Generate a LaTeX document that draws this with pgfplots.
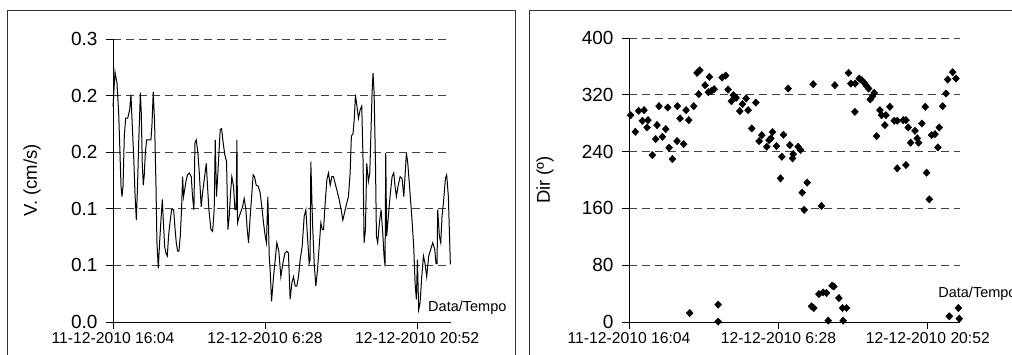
\documentclass[border=0pt]{standalone}
\usepackage{pgfplots}
\pgfplotsset{compat=1.18}
\usepackage{fontspec}
\setmainfont{Liberation Sans}

\pgfplotsset{
  myaxis/.style={
    scale only axis, anchor=south west,
    axis x line=bottom, axis y line=left,
    axis line style={-, black, line width=0.8pt},
    tick align=outside,
    major tick length=7pt,
    tick style={black, line width=0.8pt},
    ymajorgrids,
    major grid style={black!75, line width=0.8pt, dash pattern=on 8pt off 5pt},
    xtick={0,14.4,28.8},
    xticklabels={11-12-2010 16:04,12-12-2010 6:28,12-12-2010 20:52},
    xticklabel style={font=\fontsize{15.7}{16}\selectfont},
    yticklabel style={font=\fontsize{19}{19}\selectfont, xshift=-5pt},
    ylabel style={font=\fontsize{18.5}{19}\selectfont, anchor=center},
    xlabel style={font=\fontsize{14.5}{15}\selectfont, anchor=west, inner sep=0pt},
    /pgf/number format/assume math mode=true,
    xmin=0,
    clip=false,
  }
}

\begin{document}
\begin{tikzpicture}[x=1pt,y=1pt]
\useasboundingbox (0,0) rectangle (1012,355);
\clip (0,0) rectangle (1012,355);
\draw[black!80, line width=0.8pt] (7,-20) rectangle (515,345);
\draw[black!80, line width=0.8pt] (529,-20) rectangle (1040,345);

\begin{axis}[myaxis, at={(113pt,33pt)}, width=338pt, height=283pt,
  xmax=32, ymin=0, ymax=0.3,
  ytick={0,0.06,0.12,0.18,0.24,0.3},
  yticklabel style={/pgf/number format/fixed, /pgf/number format/fixed zerofill, /pgf/number format/precision=1},
  ylabel={V. (cm/s)},
  ylabel style={at={(axis description cs:-0.2396,0.5)}},
  xlabel={Data/Tempo},
  xlabel style={at={(axis description cs:0.932,0.049)}},
]
\addplot[black, line width=1pt, mark=none] coordinates {
(0,0.228)(0.19,0.265)(0.38,0.253)(0.54,0.221)(0.76,0.144)(0.85,0.133)(0.95,0.144)(1.07,0.197)(1.20,0.216)(1.39,0.216)(1.58,0.225)(1.70,0.241)(1.83,0.207)(1.96,0.175)(2.08,0.137)(2.21,0.108)(2.33,0.147)(2.43,0.190)(2.52,0.218)(2.59,0.243)(2.68,0.221)(2.77,0.168)(2.87,0.145)(2.96,0.156)(3.06,0.179)(3.18,0.193)(3.40,0.193)(3.59,0.193)(3.69,0.209)(3.81,0.244)(3.94,0.211)(4.07,0.144)(4.16,0.084)(4.29,0.057)(4.41,0.084)(4.54,0.108)(4.67,0.130)(4.76,0.108)(4.89,0.080)(5.01,0.073)(5.14,0.070)(5.26,0.091)(5.39,0.105)(5.55,0.119)(5.74,0.119)(5.86,0.101)(5.99,0.084)(6.12,0.075)(6.24,0.075)(6.37,0.091)(6.49,0.119)(6.59,0.154)(6.68,0.133)(6.81,0.142)(6.94,0.151)(7.06,0.156)(7.22,0.158)(7.41,0.154)(7.53,0.133)(7.66,0.119)(7.76,0.190)(7.88,0.193)(8.04,0.179)(8.17,0.158)(8.26,0.140)(8.35,0.122)(8.48,0.137)(8.64,0.151)(8.83,0.168)(8.95,0.144)(9.08,0.119)(9.27,0.098)(9.43,0.096)(9.58,0.119)(9.68,0.193)(9.80,0.133)(9.93,0.158)(10.15,0.204)(10.28,0.205)(10.43,0.190)(10.59,0.177)(10.75,0.170)(10.88,0.098)(11.00,0.112)(11.13,0.137)(11.25,0.154)(11.41,0.144)(11.54,0.119)(11.66,0.119)(11.73,0.193)(11.79,0.105)(11.95,0.112)(12.11,0.117)(12.26,0.122)(12.42,0.131)(12.58,0.119)(12.71,0.098)(12.83,0.084)(12.99,0.112)(13.15,0.137)(13.27,0.156)(13.40,0.154)(13.56,0.145)(13.75,0.144)(13.93,0.137)(14.09,0.122)(14.25,0.105)(14.41,0.091)(14.53,0.084)(14.66,0.133)(14.79,0.070)(14.88,0.055)(15.01,0.022)(15.20,0.048)(15.51,0.084)(15.70,0.075)(15.89,0.048)(16.08,0.062)(16.27,0.073)(16.46,0.075)(16.61,0.073)(16.77,0.024)(16.93,0.041)(17.09,0.048)(17.25,0.038)(17.40,0.038)(17.56,0.048)(17.72,0.066)(17.91,0.080)(18.10,0.112)(18.26,0.119)(18.41,0.091)(18.57,0.062)(18.66,0.066)(18.73,0.170)(18.89,0.105)(19.05,0.062)(19.20,0.038)(19.36,0.055)(19.52,0.080)(19.68,0.105)(19.81,0.098)(19.93,0.098)(20.09,0.126)(20.25,0.151)(20.40,0.158)(20.56,0.145)(20.72,0.154)(20.87,0.154)(21.03,0.147)(21.19,0.140)(21.41,0.130)(21.60,0.119)(21.76,0.108)(21.94,0.117)(22.13,0.126)(22.29,0.133)(22.45,0.158)(22.57,0.197)(22.73,0.200)(22.86,0.218)(22.95,0.241)(23.08,0.230)(23.24,0.216)(23.40,0.225)(23.55,0.229)(23.68,0.168)(23.77,0.084)(23.90,0.098)(24.02,0.168)(24.18,0.149)(24.31,0.158)(24.43,0.204)(24.53,0.244)(24.62,0.264)(24.72,0.243)(24.85,0.168)(24.94,0.091)(25.06,0.084)(25.22,0.105)(25.38,0.119)(25.54,0.094)(25.66,0.070)(25.76,0.059)(25.82,0.179)(25.91,0.091)(26.07,0.112)(26.23,0.133)(26.42,0.154)(26.58,0.158)(26.70,0.144)(26.83,0.133)(26.99,0.144)(27.18,0.154)(27.37,0.152)(27.53,0.133)(27.68,0.161)(27.78,0.179)(27.91,0.168)(28.12,0.137)(28.31,0.108)(28.47,0.080)(28.60,0.041)(28.72,0.024)(28.82,0.066)(28.94,0.013)(29.07,0.020)(29.23,0.048)(29.39,0.070)(29.54,0.062)(29.70,0.048)(29.89,0.070)(30.08,0.077)(30.27,0.084)(30.46,0.077)(30.58,0.062)(30.68,0.062)(30.74,0.119)(30.90,0.091)(31.03,0.084)(31.15,0.112)(31.31,0.130)(31.47,0.152)(31.59,0.156)(31.75,0.133)(31.94,0.061)
};
\end{axis}

\begin{axis}[myaxis, at={(629pt,33pt)}, width=331pt, height=284pt,
  xmax=31.9, ymin=0, ymax=400,
  ytick={0,80,160,240,320,400},
  ylabel={Dir (º)},
  ylabel style={at={(axis description cs:-0.2538,0.5)}},
  xlabel={Data/Tempo},
  xlabel style={at={(axis description cs:0.934,0.0986)}},
]
\addplot[only marks, mark=diamond*, mark size=3.7pt, mark options={xscale=1.25}, black] coordinates {
(0.16,291.3)(0.61,267.9)(0.93,297.4)(1.29,283.4)(1.45,298.4)(1.74,274.0)(1.83,284.3)(2.25,235.1)(2.57,257.6)(2.70,277.3)(2.89,304.0)(3.22,260.9)(3.54,271.7)(3.73,302.1)(3.86,245.4)(4.18,229.5)(4.63,254.8)(4.66,304.0)(4.92,286.7)(5.27,250.6)(5.50,298.4)(5.76,284.3)(5.85,12.6)(6.24,304.0)(6.56,350.8)(6.72,320.9)(6.82,354.6)(7.33,333.5)(7.65,323.7)(7.75,345.2)(7.94,325.5)(8.20,327.9)(8.59,0.5)(8.59,24.4)(8.97,344.3)(9.32,347.1)(9.55,327.4)(9.87,311.0)(10.06,319.5)(10.32,315.7)(10.68,297.0)(10.93,306.8)(11.29,314.8)(11.48,298.4)(11.83,272.6)(12.22,309.1)(12.54,254.8)(12.80,263.2)(13.28,246.8)(13.50,256.2)(13.67,258.6)(13.83,267.5)(14.21,247.8)(14.60,202.3)(14.73,232.8)(14.89,263.7)(15.34,328.8)(15.50,249.2)(15.76,230.5)(15.82,236.5)(16.30,246.8)(16.53,242.2)(16.69,182.2)(16.88,157.9)(17.17,196.3)(17.59,22.0)(17.75,334.9)(17.81,19.7)(18.30,39.3)(18.55,163.5)(18.71,41.7)(19.04,40.8)(19.20,1.9)(19.58,51.1)(19.74,50.1)(19.84,333.5)(20.23,33.7)(20.58,19.7)(20.64,1.9)(20.96,19.7)(21.16,350.8)(21.38,335.8)(21.77,296.0)(21.80,335.8)(22.19,342.9)(22.44,340.5)(22.67,336.8)(22.89,332.6)(23.09,328.8)(23.25,313.4)(23.47,318.0)(23.63,322.7)(23.86,261.8)(24.18,298.4)(24.34,291.3)(24.66,277.3)(24.76,291.3)(25.14,303.1)(25.56,283.4)(25.85,283.4)(25.85,216.4)(26.43,284.3)(26.69,284.3)(26.69,221.1)(26.91,274.0)(27.14,252.5)(27.56,269.3)(27.78,258.6)(27.91,252.5)(28.23,279.6)(28.55,303.1)(28.68,210.3)(28.94,172.8)(29.16,263.2)(29.49,264.6)(29.77,245.9)(29.90,274.0)(30.23,304.0)(30.55,321.8)(30.71,341.5)(30.87,8.0)(31.19,351.8)(31.51,342.9)(31.74,19.7)(31.83,4.7)
};
\end{axis}
\end{tikzpicture}
\end{document}
